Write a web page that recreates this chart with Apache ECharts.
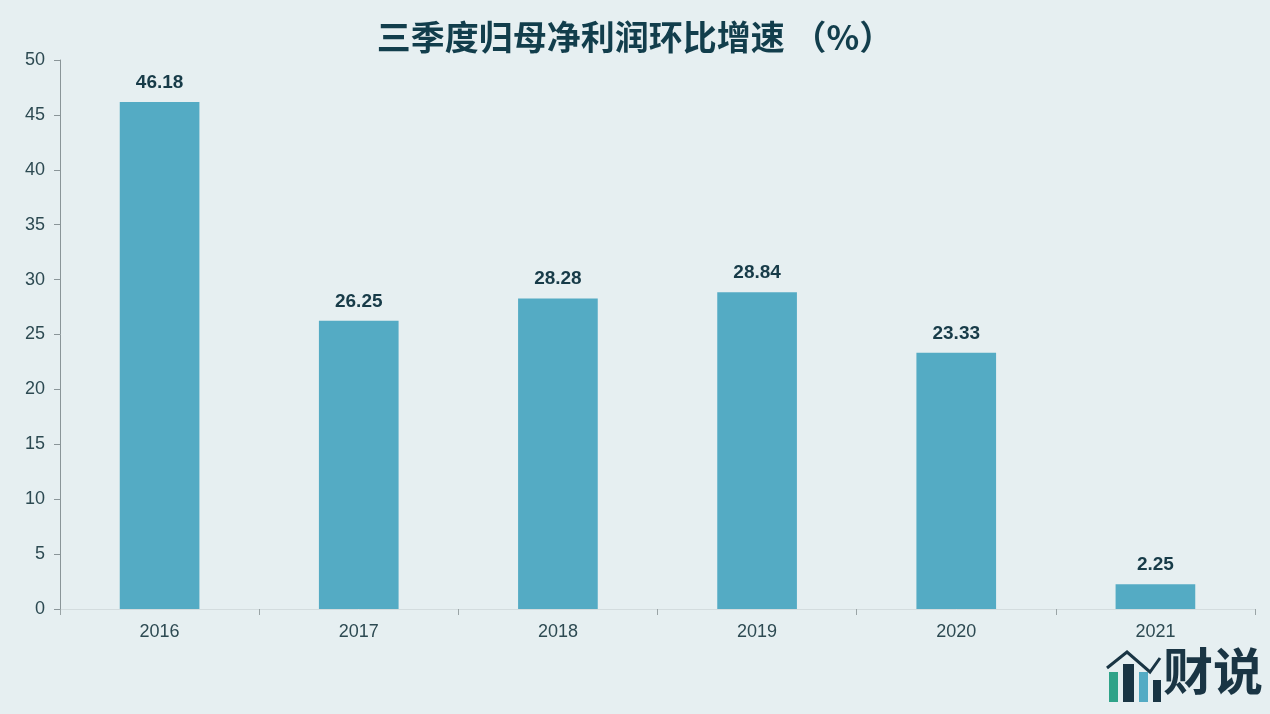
<!DOCTYPE html>
<html>
<head>
<meta charset="utf-8">
<script src="https://cdn.jsdelivr.net/npm/echarts@6/dist/echarts.min.js"></script>
<style>
html,body{margin:0;padding:0;background:#e6eff1;}
#c{width:1270px;height:714px;}
</style>
</head>
<body>
<div id="c"></div>
<script>
const categories = ['2016','2017','2018','2019','2020','2021'];
const values = [46.18, 26.25, 28.28, 28.84, 23.33, 2.25];
const title = '三季度归母净利润环比增速 （%）';

const chart = echarts.init(document.getElementById('c'));
chart.setOption({
  backgroundColor: '#e6eff1',
  animation: false,
  title: {
    text: title,
    left: 'center',
    top: 15,
    textStyle: {fontFamily: 'Noto Sans CJK SC', fontSize: 34, fontWeight: 'bold', color: '#123e4c'}
  },
  grid: {left: 60, right: 15, top: 60, bottom: 105, containLabel: false},
  xAxis: {
    type: 'category',
    data: categories,
    axisLine: {lineStyle: {color: '#d3dcde', width: 1}},
    axisTick: {show: true, alignWithLabel: false, length: 6, lineStyle: {color: '#9aa4a6'}},
    axisLabel: {fontFamily: 'Liberation Sans', fontSize: 18, color: '#2d4a52', margin: 14}
  },
  yAxis: {
    type: 'value',
    min: 0, max: 50, interval: 5,
    axisLine: {show: true, lineStyle: {color: '#8a9598'}},
    axisTick: {show: true, length: 6, lineStyle: {color: '#8a9598'}},
    splitLine: {show: false},
    axisLabel: {fontFamily: 'Liberation Sans', fontSize: 18, color: '#2d4a52', margin: 15}
  },
  series: [{
    type: 'bar',
    data: values,
    barWidth: '40%',
    itemStyle: {color: '#54abc4'},
    label: {
      show: true, position: 'top', distance: 10,
      fontFamily: 'Liberation Sans', fontSize: 19, fontWeight: 'bold', color: '#173b48',
      formatter: p => p.value.toFixed(2)
    }
  }],
  graphic: [
    {type: 'text', left: 1163, top: 646, style: {text: '财说', font: 'bold 50px "Noto Sans CJK SC"', fill: '#1a3544'}},
    {type: 'rect', shape: {x: 1109, y: 672, width: 9, height: 30}, style: {fill: '#2fa389'}},
    {type: 'rect', shape: {x: 1123, y: 664, width: 11, height: 38}, style: {fill: '#1a3544'}},
    {type: 'rect', shape: {x: 1139, y: 672, width: 9, height: 30}, style: {fill: '#54abc4'}},
    {type: 'rect', shape: {x: 1153, y: 680, width: 8, height: 22}, style: {fill: '#1a3544'}},
    {type: 'polyline', shape: {points: [[1107,668],[1127,652],[1150,672],[1160,658]]}, style: {stroke: '#1a3544', lineWidth: 3, fill: null}}
  ]
});
</script>
</body>
</html>
